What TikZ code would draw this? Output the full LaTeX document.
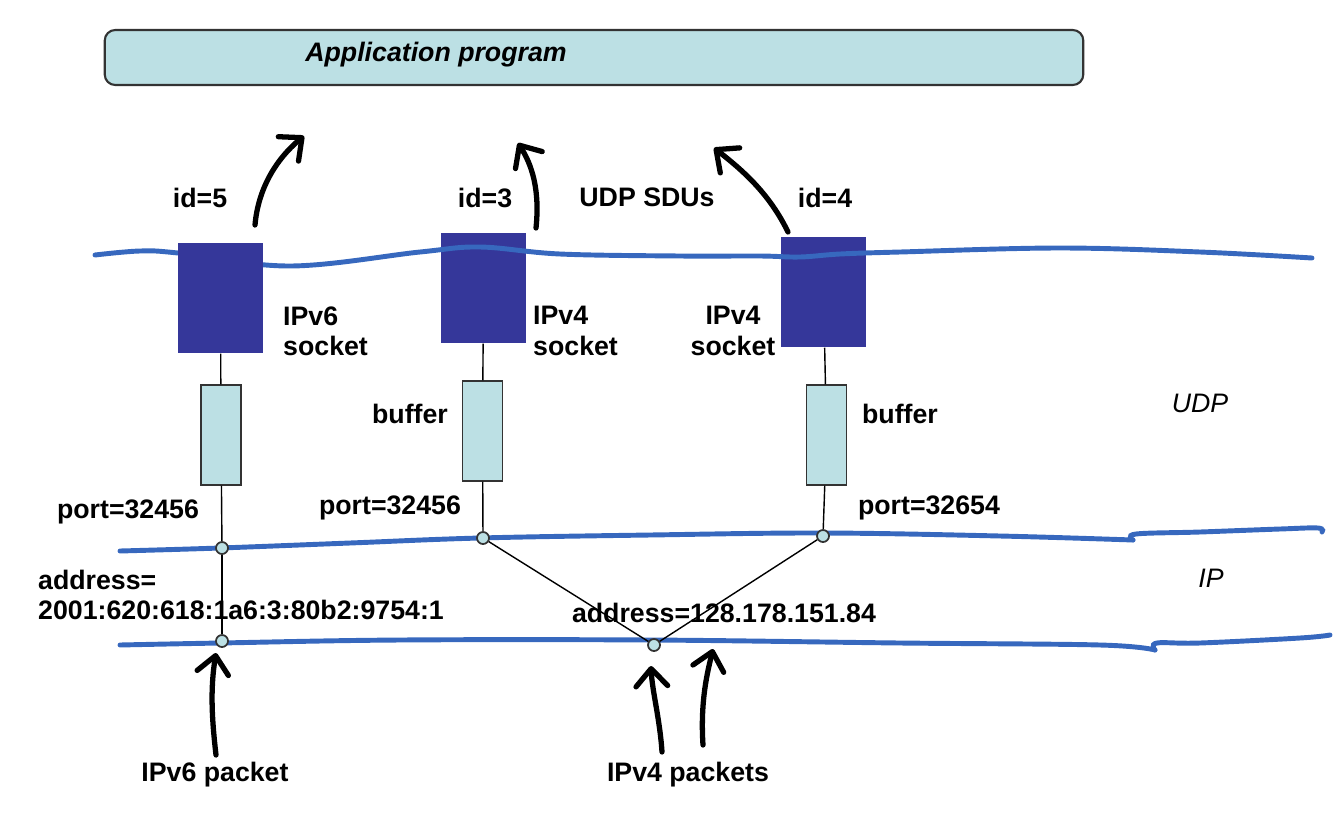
\documentclass[tikz,border=0pt]{standalone}
\usepackage{fontspec}
\setsansfont{Liberation Sans}
\usetikzlibrary{arrows.meta}

\definecolor{appcol}{RGB}{188,224,228}
\definecolor{sockcol}{RGB}{53,55,154}
\definecolor{wavecol}{RGB}{55,104,190}

\begin{document}
\begin{tikzpicture}[
    x=0.01cm, y=-0.01cm,
    font=\fontsize{7.6}{8.6}\selectfont\sffamily\bfseries,
    appbox/.style={draw=black!80, line width=0.6pt, rounded corners=3pt, fill=appcol,
        minimum width=9.78cm, minimum height=0.55cm},
    socket/.style={fill=sockcol, minimum width=0.85cm, minimum height=1.10cm, inner sep=0pt},
    buffer/.style={draw=black!80, line width=0.4pt, fill=appcol,
        minimum width=0.40cm, minimum height=1.00cm, inner sep=0pt},
    port/.style={circle, draw=black!80, line width=0.5pt, fill=appcol,
        minimum size=0.12cm, inner sep=0pt},
    lbl/.style={inner sep=1pt},
    layer/.style={font=\fontsize{7.6}{8.6}\selectfont\sffamily\itshape},
    wave/.style={draw=wavecol, line width=1.4pt, line cap=round},
    link/.style={draw=black, line width=0.4pt},
    hand/.style={draw=black, line width=1.5pt, line cap=round,
        -{Straight Barb[length=5pt, width=9pt, round]}}
]
\useasboundingbox (0,0) rectangle (1342,830);

% application
\node[appbox] (app) at (594,57.5) {};
\node[lbl, font=\fontsize{7.6}{8.6}\selectfont\sffamily\bfseries\itshape] (apptext) at (436,55) {Application program};

% IPv4 sockets lie under the UDP boundary, the IPv6 one over it
\node[socket] (sock3) at (483.5,288) {};
\node[socket] (sock4) at (823.5,292) {};

% layer boundaries
\draw[wave] plot[smooth, tension=0.6] coordinates {(95,255) (140,251) (178,253) (290,266) (420,252) (480,247) (560,254) (680,256) (760,256) (800,257) (840,254) (900,252) (1060,248) (1200,252) (1312,258)};
\draw[wave] plot[smooth, tension=0.6] coordinates {(120,551) (220,548) (350,543) (480,538) (650,535) (823,533) (1000,536) (1133,540)};
\draw[wave] plot[smooth, tension=0.6] coordinates {(1133,540) (1136,534) (1200,532) (1280,529) (1318,528) (1322,532)};
\draw[wave] plot[smooth, tension=0.6] coordinates {(120,645) (220,643) (400,640) (650,640) (900,643) (1100,645) (1155,650)};
\draw[wave] plot[smooth, tension=0.6] coordinates {(1155,650) (1157,643) (1200,643) (1300,638) (1330,635)};

\node[socket] (sock5) at (220.5,298) {};

% buffers and ports
\node[buffer] (buf5) at (221,435) {};
\node[buffer] (buf3) at (482.5,431) {};
\node[buffer] (buf4) at (826.5,435) {};

\node[port] (p5) at (222,548) {};
\node[port] (p3) at (483,538) {};
\node[port] (p4) at (823,536) {};
\node[port] (a6) at (222,641) {};
\node[port] (a4) at (654,645) {};

\draw[link] (sock5) -- (buf5);
\draw[link] (buf5) -- (p5);
\draw[link] (p5) -- (a6);
\draw[link] (sock3) -- (buf3);
\draw[link] (buf3) -- (p3);
\draw[link] (p3) -- (a4);
\draw[link] (sock4) -- (buf4);
\draw[link] (buf4) -- (p4);
\draw[link] (p4) -- (a4);

% labels
\node[lbl] (id5) at (200,198) {id=5};
\node[lbl] (id3) at (485,198) {id=3};
\node[lbl] (sdus) at (647,197) {UDP SDUs};
\node[lbl] (id4) at (825,198) {id=4};

\node[lbl, anchor=west, align=left] (s6lbl) at (279,331) {IPv6\\socket};
\node[lbl, anchor=west, align=left] (s3lbl) at (529,331) {IPv4\\socket};
\node[lbl, align=center] (s4lbl) at (733,331) {IPv4\\socket};

\node[lbl] (b3lbl) at (410,414) {buffer};
\node[lbl] (b4lbl) at (900,414) {buffer};

\node[lbl, layer] (udp) at (1200,403) {UDP};
\node[lbl, layer] (ip) at (1211,578) {IP};

\node[lbl] (pt5) at (128,512) {port=32456};
\node[lbl] (pt3) at (390,508) {port=32456};
\node[lbl] (pt4) at (929,508) {port=32654};

\node[lbl, anchor=west, align=left] (addr6) at (34,595) {address=\\2001:620:618:1a6:3:80b2:9754:1};
\node[lbl] (addr4) at (724,613) {address=128.178.151.84};

\node[lbl] (pk6) at (215,775) {IPv6 packet};
\node[lbl] (pk4) at (688,775) {IPv4 packets};

% hand drawn arrows
\coordinate (u5s) at (255,225);
\coordinate (u5e) at (304,136);
\coordinate (u3s) at (536,228);
\coordinate (u3e) at (518,143);
\coordinate (u4s) at (788,232);
\coordinate (u4e) at (714,148);
\coordinate (d6s) at (216,755);
\coordinate (d6e) at (216,653);
\coordinate (d4s) at (662,752);
\coordinate (d4e) at (651,666);
\coordinate (d4bs) at (703,745);
\coordinate (d4be) at (713,649);

\draw[hand] (u5s) .. controls (258,190) and (275,160) .. (u5e);
\draw[hand] (u3s) .. controls (540,190) and (532,165) .. (u3e);
\draw[hand] (u4s) .. controls (770,195) and (745,172) .. (u4e);
\draw[hand] (d6s) .. controls (212,720) and (210,690) .. (d6e);
\draw[hand] (d4s) .. controls (660,720) and (652,690) .. (d4e);
\draw[hand] (d4bs) .. controls (700,700) and (708,670) .. (d4be);

\end{tikzpicture}
\end{document}
